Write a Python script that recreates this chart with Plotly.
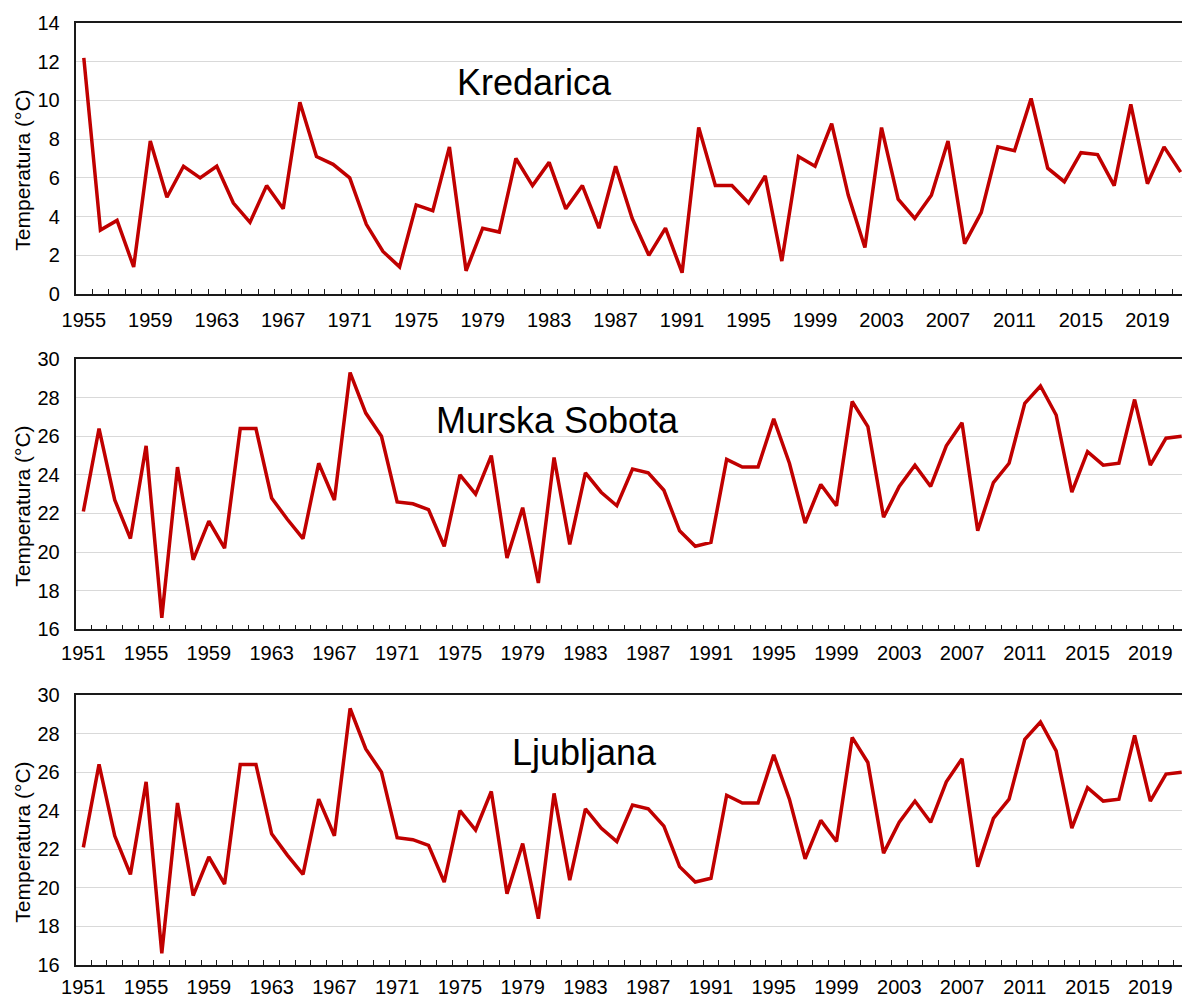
import plotly.graph_objects as go

# ---------------- data ----------------
years_kredarica = list(range(1955, 2022))
kredarica = [12.2, 3.3, 3.8, 1.4, 7.9, 5.0, 6.6, 6.0, 6.6, 4.7,
             3.7, 5.6, 4.4, 9.9, 7.1, 6.7, 6.0, 3.6, 2.2, 1.4,
             4.6, 4.3, 7.6, 1.2, 3.4, 3.2, 7.0, 5.6, 6.8, 4.4,
             5.6, 3.4, 6.6, 3.9, 2.0, 3.4, 1.1, 8.6, 5.6, 5.6,
             4.7, 6.1, 1.7, 7.1, 6.6, 8.8, 5.1, 2.4, 8.6, 4.9,
             3.9, 5.1, 7.9, 2.6, 4.2, 7.6, 7.4, 10.1, 6.5, 5.8,
             7.3, 7.2, 5.6, 9.8, 5.7, 7.6, 6.3]

years_lowland = list(range(1951, 2022))
murska_sobota = [22.1, 26.4, 22.7, 20.7, 25.5, 16.6, 24.4, 19.6, 21.6, 20.2,
                 26.4, 26.4, 22.8, 21.7, 20.7, 24.6, 22.7, 29.3, 27.2, 26.0,
                 22.6, 22.5, 22.2, 20.3, 24.0, 23.0, 25.0, 19.7, 22.3, 18.4,
                 24.9, 20.4, 24.1, 23.1, 22.4, 24.3, 24.1, 23.2, 21.1, 20.3,
                 20.5, 24.8, 24.4, 24.4, 26.9, 24.6, 21.5, 23.5, 22.4, 27.8,
                 26.5, 21.8, 23.4, 24.5, 23.4, 25.5, 26.7, 21.1, 23.6, 24.6,
                 27.7, 28.6, 27.1, 23.1, 25.2, 24.5, 24.6, 27.9, 24.5, 25.9,
                 26.0]
ljubljana = [22.1, 26.4, 22.7, 20.7, 25.5, 16.6, 24.4, 19.6, 21.6, 20.2,
             26.4, 26.4, 22.8, 21.7, 20.7, 24.6, 22.7, 29.3, 27.2, 26.0,
             22.6, 22.5, 22.2, 20.3, 24.0, 23.0, 25.0, 19.7, 22.3, 18.4,
             24.9, 20.4, 24.1, 23.1, 22.4, 24.3, 24.1, 23.2, 21.1, 20.3,
             20.5, 24.8, 24.4, 24.4, 26.9, 24.6, 21.5, 23.5, 22.4, 27.8,
             26.5, 21.8, 23.4, 24.5, 23.4, 25.5, 26.7, 21.1, 23.6, 24.6,
             27.7, 28.6, 27.1, 23.1, 25.2, 24.5, 24.6, 27.9, 24.5, 25.9,
             26.0]

station_names = ["Kredarica", "Murska Sobota", "Ljubljana"]
y_title = "Temperatura (°C)"
kred_ticks = list(range(1955, 2022, 4))
low_ticks = list(range(1951, 2022, 4))

# ---------------- figure ----------------
W, H = 1182, 999
RED = "#C00000"
FONT = "Arial, Liberation Sans, sans-serif"

fig = go.Figure()

panels = [
    dict(x=years_kredarica, y=kredarica, ticks=kred_ticks, yr=[0, 14],
         xr=[1954.5, 2021.08], top=23, bot=294, title_xy=(534.5, 82), so=7),
    dict(x=years_lowland, y=murska_sobota, ticks=low_ticks, yr=[16, 30],
         xr=[1950.5, 2021.02], top=359, bot=629.3, title_xy=(557, 420), so=5),
    dict(x=years_lowland, y=ljubljana, ticks=low_ticks, yr=[16, 30],
         xr=[1950.5, 2021.02], top=695, bot=965, title_xy=(584, 752.5), so=3),
]

x0 = 75.5 / W
for i, p in enumerate(panels):
    n = "" if i == 0 else str(i + 1)
    fig.add_trace(go.Scatter(x=p["x"], y=p["y"], mode="lines",
                             line=dict(color=RED, width=3.5),
                             xaxis="x" + n, yaxis="y" + n, showlegend=False))
    dom = [1 - p["bot"] / H, 1 - p["top"] / H]
    fig.layout["xaxis" + n] = dict(
        domain=[x0, 1], range=p["xr"], anchor="y" + n, automargin=False,
        tickmode="array", tickvals=p["ticks"], ticktext=[str(t) for t in p["ticks"]],
        ticks="", showgrid=False, zeroline=False,
        showline=True, linecolor="#1a1a1a", linewidth=1.5, mirror=True,
        tickfont=dict(family=FONT, size=20, color="#000000"),
        ticklabelstandoff=p["so"],
        minor=dict(ticks="inside", ticklen=5, tickwidth=1, tickcolor="#1a1a1a",
                   tick0=p["xr"][0], dtick=1, showgrid=False),
    )
    fig.layout["yaxis" + n] = dict(
        domain=dom, range=p["yr"], anchor="x" + n, automargin=False,
        tickmode="linear", tick0=p["yr"][0], dtick=2, ticks="",
        showgrid=True, gridcolor="#D9D9D9", gridwidth=1.3, zeroline=False,
        showline=True, linecolor="#1a1a1a", linewidth=1.5,
        tickfont=dict(family=FONT, size=20, color="#000000"),
        ticklabelstandoff=10,
    )
    tx, ty = p["title_xy"]
    fig.add_annotation(text=station_names[i], x=tx / W, y=1 - ty / H,
                       xref="paper", yref="paper", xanchor="center", yanchor="middle",
                       showarrow=False, font=dict(family=FONT, size=36, color="#000000"))
    fig.add_annotation(text=y_title, x=23 / W, y=1 - (p["top"] + 147.7) / H,
                       xref="paper", yref="paper", xanchor="center", yanchor="middle",
                       textangle=-90, showarrow=False,
                       font=dict(family=FONT, size=21, color="#000000"))

fig.update_layout(width=W, height=H, margin=dict(l=0, r=0, t=0, b=0, autoexpand=False),
                  paper_bgcolor="white", plot_bgcolor="white")

fig.write_html("out.html",
               config={"displayModeBar": False},
               post_script="document.body.style.margin='0';"
                           "document.body.style.overflow='hidden';")
